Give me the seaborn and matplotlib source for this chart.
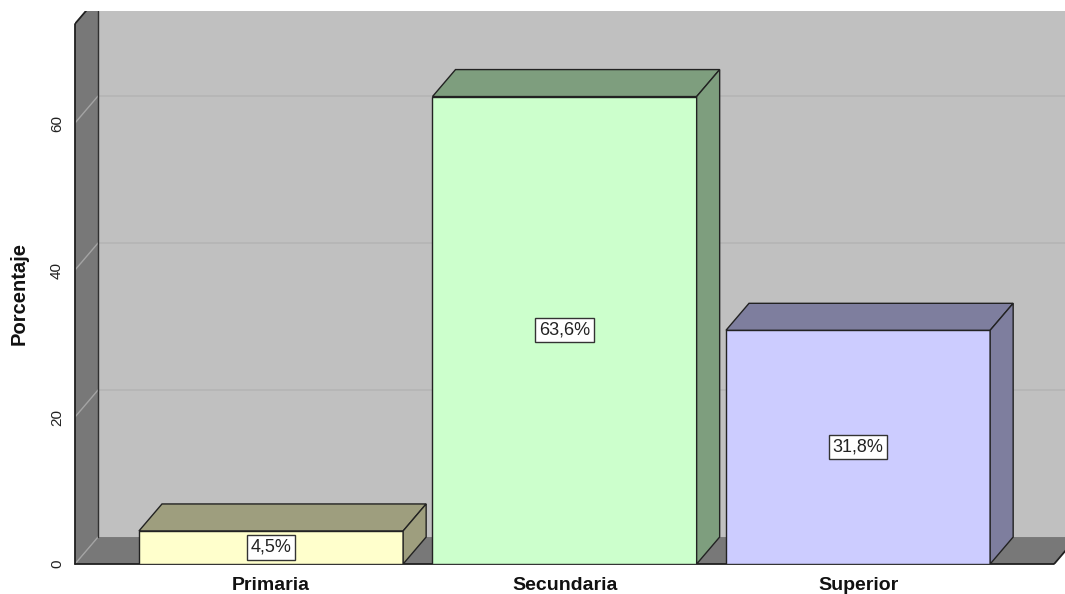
import matplotlib
matplotlib.use('Agg')
import matplotlib.pyplot as plt
import seaborn as sns
import pandas as pd
from matplotlib.patches import Polygon, Rectangle

categories = ['Primaria', 'Secundaria', 'Superior']
percentages = [4.5, 63.6, 31.8]
value_labels = ['4,5%', '63,6%', '31,8%']
front_colors = ['#FFFFCC', '#CCFFCC', '#CCCCFF']
shade_colors = ['#9E9E7E', '#7E9E7E', '#7E7E9E']
yticks = [0, 20, 40, 60]

sns.set_theme(style='white')
plt.rcParams['font.family'] = ['Liberation Sans', 'DejaVu Sans']

fig = plt.figure(figsize=(10.65, 5.94), dpi=100)
ax = fig.add_axes([75 / 1065, 30 / 594, 990 / 1065, 553 / 594])
ax.set_facecolor('none')

df = pd.DataFrame({'cat': categories, 'pct': percentages})
sns.barplot(data=df, x='cat', y='pct', hue='cat', palette=front_colors,
            saturation=1, width=0.9, edgecolor='#222222', linewidth=1, ax=ax,
            legend=False, zorder=5)
bars = list(ax.patches)

XL, XR = -0.668, 2.668
XMAX = 2.705
DX, DY = 0.0784, 3.67
YMAX = 75.24
WALL_TOP = 73.5

ax.set_xlim(XL, XMAX)
ax.set_ylim(0, YMAX)

wall_c = '#787878'
# back wall
ax.add_patch(Rectangle((XL + DX, DY), XMAX - XL, YMAX, fc='#C0C0C0', ec='none', zorder=0))
# left wall
ax.add_patch(Polygon([(XL, 0), (XL, WALL_TOP), (XL + DX, WALL_TOP + DY), (XL + DX, DY)],
                     closed=True, fc=wall_c, ec='none', zorder=1))
# floor
ax.add_patch(Polygon([(XL, 0), (XL + DX, DY), (XR + DX, DY), (XR, 0)],
                     closed=True, fc=wall_c, ec='none', zorder=1))
# gridlines
for v in yticks[1:]:
    ax.plot([XL + DX, XMAX + 1], [v + DY, v + DY], color='#B4B4B4', lw=1.2, zorder=0.5)
    ax.plot([XL, XL + DX], [v, v + DY], color='#A4A4A4', lw=1, zorder=2)
ax.plot([XL, XL + DX], [0, DY], color='#A4A4A4', lw=1, zorder=2)
# wall edges
ax.plot([XL, XL], [0, WALL_TOP], color='#202020', lw=1.3, zorder=3, clip_on=False)
ax.plot([XL + DX, XL + DX], [DY, YMAX], color='#303030', lw=1, zorder=3)
ax.plot([XL, XL + DX], [WALL_TOP, WALL_TOP + DY], color='#202020', lw=1.3, zorder=3)
ax.plot([XL, XR], [0, 0], color='#202020', lw=1.3, zorder=3, clip_on=False)
ax.plot([XR, XR + DX], [0, DY], color='#202020', lw=1.3, zorder=3)

# 3D bar faces
for bar, shade, lab in zip(bars, shade_colors, value_labels):
    x0, w, h = bar.get_x(), bar.get_width(), bar.get_height()
    ax.add_patch(Polygon([(x0, h), (x0 + DX, h + DY), (x0 + w + DX, h + DY), (x0 + w, h)],
                         closed=True, fc=shade, ec='#222222', lw=1, zorder=5))
    ax.add_patch(Polygon([(x0 + w, 0), (x0 + w, h), (x0 + w + DX, h + DY), (x0 + w + DX, DY)],
                         closed=True, fc=shade, ec='#222222', lw=1, zorder=5))
    ax.text(x0 + w / 2, h / 2, lab, ha='center', va='center', fontsize=13,
            color='#222222', zorder=10,
            bbox=dict(boxstyle='square,pad=0.2', fc='white', ec='#333333', lw=1))

for s in ax.spines.values():
    s.set_visible(False)
ax.grid(False)

ax.set_yticks(yticks)
ax.set_yticklabels([str(t) for t in yticks])
ax.tick_params(axis='y', length=0, pad=8, labelsize=11, labelrotation=90, labelcolor='#222222')
for t in ax.get_yticklabels():
    t.set_va('center')
ax.tick_params(axis='x', length=0, pad=9, labelsize=14, labelcolor='#111111')
for t in ax.get_xticklabels():
    t.set_fontweight('bold')

ax.set_xlabel('')
ax.set_ylabel('Porcentaje', fontsize=14.5, fontweight='bold', color='#111111')
ax.yaxis.set_label_coords(-0.0465, 0.49)

fig.savefig('out.png', dpi=100)
